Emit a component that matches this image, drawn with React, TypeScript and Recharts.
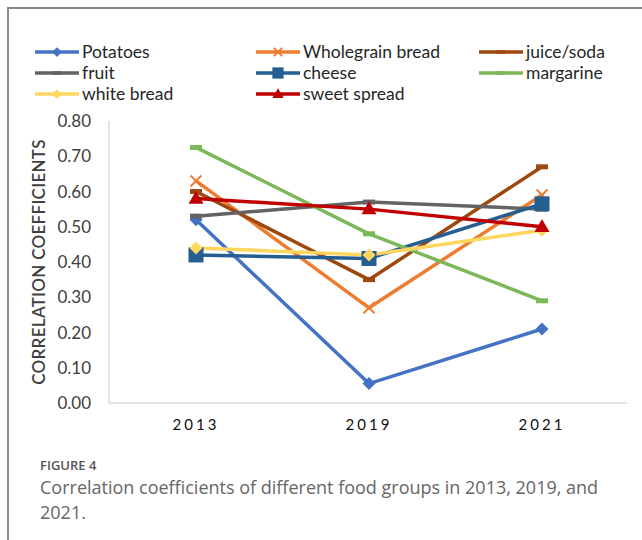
import React from 'react';
import { LineChart, Line, XAxis, YAxis, Legend } from 'recharts';

const years = ['2013', '2019', '2021'];
const potatoes = [0.52, 0.055, 0.21];
const wholegrainBread = [0.63, 0.27, 0.59];
const juiceSoda = [0.6, 0.35, 0.67];
const fruit = [0.53, 0.57, 0.55];
const cheese = [0.42, 0.41, 0.565];
const margarine = [0.725, 0.48, 0.29];
const whiteBread = [0.44, 0.42, 0.49];
const sweetSpread = [0.58, 0.55, 0.5];
const yTicks = [0, 0.1, 0.2, 0.3, 0.4, 0.5, 0.6, 0.7, 0.8];

type Shape = 'diamond' | 'x' | 'dash' | 'square' | 'triangle';

const series: { key: string; name: string; values: number[]; color: string; shape: Shape }[] = [
  { key: 'potatoes', name: 'Potatoes', values: potatoes, color: '#4472C4', shape: 'diamond' },
  { key: 'wholegrain', name: 'Wholegrain bread', values: wholegrainBread, color: '#ED7D31', shape: 'x' },
  { key: 'juice', name: 'juice/soda', values: juiceSoda, color: '#9E480E', shape: 'dash' },
  { key: 'fruit', name: 'fruit', values: fruit, color: '#636363', shape: 'dash' },
  { key: 'cheese', name: 'cheese', values: cheese, color: '#255E91', shape: 'square' },
  { key: 'margarine', name: 'margarine', values: margarine, color: '#7CB85A', shape: 'dash' },
  { key: 'white', name: 'white bread', values: whiteBread, color: '#FFD660', shape: 'diamond' },
  { key: 'sweet', name: 'sweet spread', values: sweetSpread, color: '#C00000', shape: 'triangle' },
];

const data = years.map((year, i) => {
  const row: Record<string, string | number> = { year };
  series.forEach((s) => {
    row[s.key] = s.values[i];
  });
  return row;
});

const FONT = 'Lato, "Liberation Sans", sans-serif';

function Marker({ shape, color, cx, cy, scale = 1 }: { shape: Shape; color: string; cx: number; cy: number; scale?: number }) {
  const s = scale;
  if (shape === 'diamond') {
    const r = 6.5 * s;
    return <polygon points={`${cx},${cy - r} ${cx + r},${cy} ${cx},${cy + r} ${cx - r},${cy}`} fill={color} />;
  }
  if (shape === 'x') {
    const r = 5.5 * s;
    return (
      <g stroke={color} strokeWidth={2}>
        <line x1={cx - r} y1={cy - r} x2={cx + r} y2={cy + r} />
        <line x1={cx - r} y1={cy + r} x2={cx + r} y2={cy - r} />
      </g>
    );
  }
  if (shape === 'dash') {
    return <rect x={cx - 6 * s} y={cy - 2.5 * s} width={12 * s} height={5 * s} fill={color} />;
  }
  if (shape === 'square') {
    const r = 7.5 * s;
    return <rect x={cx - r} y={cy - r} width={2 * r} height={2 * r} fill={color} />;
  }
  const w = 7.5 * s;
  const h = 13 * s;
  return <polygon points={`${cx},${cy - h * 0.6} ${cx + w},${cy + h * 0.4} ${cx - w},${cy + h * 0.4}`} fill={color} />;
}

const makeDot = (shape: Shape, color: string) => (props: any) => {
  const { cx, cy, index } = props;
  return <Marker key={`d-${index}`} shape={shape} color={color} cx={cx} cy={cy} />;
};

// keep the legend in series order (Recharts sorts it by name otherwise)
const renderLegend = (props: any) => {
  const payload = [...(props.payload || [])].sort(
    (a: any, b: any) =>
      series.findIndex((s) => s.key === a.dataKey) - series.findIndex((s) => s.key === b.dataKey)
  );
  return (
    <div
      style={{
        display: 'grid',
        gridTemplateColumns: '221px 223px 150px',
        gridAutoRows: '21px',
        fontFamily: FONT,
        fontSize: 17.5,
        color: '#262626',
      }}
    >
      {payload.map((entry: any) => {
        const s = series.find((x) => x.key === entry.dataKey)!;
        return (
          <div key={s.key} style={{ display: 'flex', alignItems: 'center', whiteSpace: 'nowrap' }}>
            <svg width={44} height={16} style={{ marginRight: 3 }}>
              <line x1={0} y1={8} x2={44} y2={8} stroke={s.color} strokeWidth={3.5} />
              <Marker shape={s.shape} color={s.color} cx={22} cy={8} scale={0.75} />
            </svg>
            <span>{s.name}</span>
          </div>
        );
      })}
    </div>
  );
};

const yTitle = (props: any) => {
  const { viewBox } = props;
  const cx = 38;
  const cy = viewBox.y + viewBox.height / 2;
  return (
    <text
      x={cx}
      y={cy}
      transform={`rotate(-90 ${cx} ${cy})`}
      textAnchor="middle"
      dominantBaseline="central"
      fontFamily={FONT}
      fontSize={17}
      fontWeight={600}
      letterSpacing={0.3}
      fill="#404040"
    >
      CORRELATION COEFFICIENTS
    </text>
  );
};

export default function App() {
  return (
    <div style={{ position: 'absolute', left: 0, top: 0, width: 642, height: 540, overflow: 'hidden', background: '#fff' }}>
      <div
        style={{
          position: 'absolute',
          left: 7,
          top: 7,
          width: 700,
          height: 600,
          borderLeft: '2px solid #8a8a8a',
          borderTop: '2px solid #8a8a8a',
        }}
      />
      <div style={{ position: 'absolute', left: 0, top: 0 }}>
        <LineChart width={642} height={440} data={data} margin={{ top: 121, right: 15, left: 0, bottom: 0 }}>
          <XAxis
            dataKey="year"
            height={37}
            padding={{ left: 87, right: 85 }}
            axisLine={{ stroke: '#d9d9d9', strokeWidth: 1.5 }}
            tickLine={false}
            tickSize={8}
            tickMargin={8}
            tick={{ fontFamily: FONT, fontSize: 15, fill: '#111', letterSpacing: 3 }}
          />
          <YAxis
            width={109}
            domain={[0, 0.8]}
            ticks={yTicks}
            tickFormatter={(v: number) => v.toFixed(2)}
            axisLine={{ stroke: '#d9d9d9', strokeWidth: 1.5 }}
            tickLine={false}
            tickSize={8}
            tickMargin={10}
            tick={{ fontFamily: FONT, fontSize: 17, fill: '#404040' }}
            label={yTitle}
          />
          <Legend
            layout="horizontal"
            verticalAlign="middle"
            align="center"
            wrapperStyle={{ top: 41, left: 35, width: 600 }}
            content={renderLegend}
          />
          {series.map((s) => (
            <Line
              key={s.key}
              dataKey={s.key}
              name={s.name}
              stroke={s.color}
              strokeWidth={3.5}
              type="linear"
              dot={makeDot(s.shape, s.color)}
              activeDot={false}
              isAnimationActive={false}
            />
          ))}
        </LineChart>
      </div>
      <div
        style={{
          position: 'absolute',
          left: 40,
          top: 456,
          fontFamily: '"Open Sans", sans-serif',
          fontSize: 13,
          fontWeight: 600,
          color: '#555',
        }}
      >
        FIGURE 4
      </div>
      <div
        style={{
          position: 'absolute',
          left: 40,
          top: 475,
          width: 580,
          fontFamily: '"Open Sans", sans-serif',
          fontSize: 18,
          lineHeight: '25px',
          color: '#666',
        }}
      >
        Correlation coefficients of different food groups in 2013, 2019, and 2021.
      </div>
    </div>
  );
}
